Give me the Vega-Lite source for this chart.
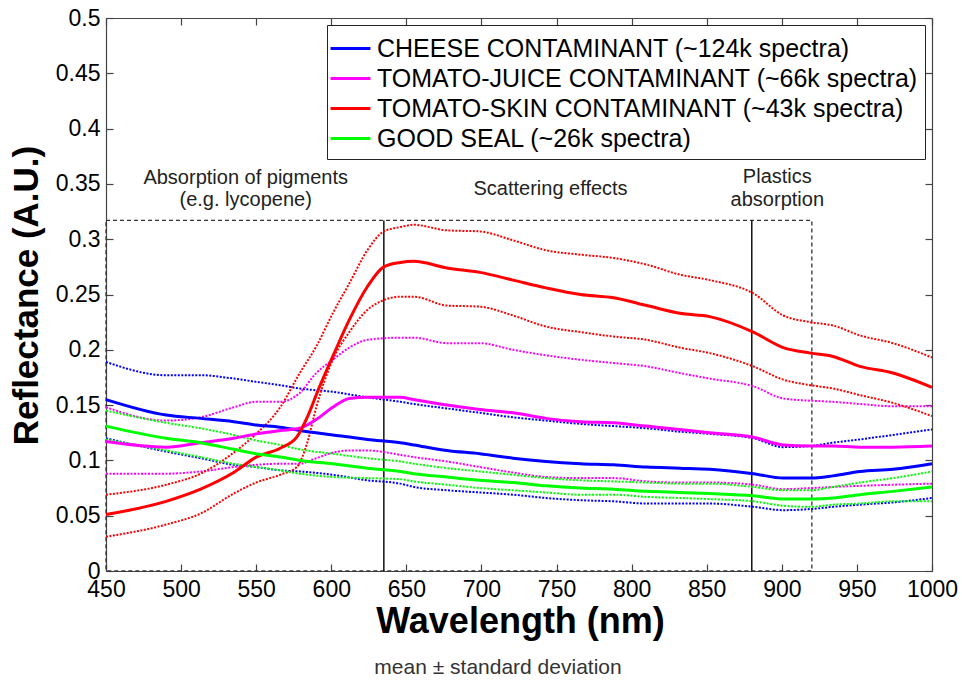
{
  "$schema": "https://vega.github.io/schema/vega-lite/v6.json",
  "width": 826,
  "height": 553,
  "autosize": {"type": "none"},
  "padding": {"left": 106, "top": 18, "right": 30, "bottom": 113},
  "background": "white",
  "config": {
    "view": {"stroke": null},
    "font": "Liberation Sans",
    "axis": {
      "grid": false,
      "domainColor": "#444",
      "domainWidth": 1.2,
      "tickColor": "#444",
      "tickWidth": 1.2,
      "tickSize": -7,
      "labelColor": "#000",
      "labelFont": "Liberation Sans",
      "labelFontSize": 23,
      "labelOverlap": false,
      "labelFlush": false,
      "titleFont": "Liberation Sans",
      "titleFontWeight": "bold",
      "titleColor": "#000"
    },
    "legend": {
      "orient": "top-right",
      "offset": 7,
      "strokeColor": "#222",
      "fillColor": "white",
      "padding": 7,
      "labelFont": "Liberation Sans",
      "labelFontSize": 25,
      "labelColor": "#000",
      "labelLimit": 0,
      "symbolType": "M-1.33,0H1.33",
      "symbolSize": 900,
      "symbolStrokeWidth": 3,
      "symbolDash": [1, 0],
      "rowPadding": 0,
      "labelOffset": 10
    }
  },
  "title": {
    "text": "mean ± standard deviation",
    "orient": "bottom",
    "anchor": "middle",
    "font": "Liberation Sans",
    "fontSize": 21,
    "fontWeight": "normal",
    "color": "#333",
    "dx": -21,
    "offset": 18
  },
  "datasets": {
    "spectra": [
      {"s": "C", "w": 450, "m": 0.155, "u": 0.189, "l": 0.120},
      {"s": "C", "w": 490, "m": 0.141, "u": 0.177, "l": 0.108},
      {"s": "C", "w": 513, "m": 0.138, "u": 0.177, "l": 0.102},
      {"s": "C", "w": 535, "m": 0.135, "u": 0.174, "l": 0.096},
      {"s": "C", "w": 550, "m": 0.132, "u": 0.171, "l": 0.094},
      {"s": "C", "w": 566, "m": 0.130, "u": 0.168, "l": 0.091},
      {"s": "C", "w": 579, "m": 0.127, "u": 0.165, "l": 0.090},
      {"s": "C", "w": 601, "m": 0.123, "u": 0.162, "l": 0.087},
      {"s": "C", "w": 624, "m": 0.119, "u": 0.157, "l": 0.082},
      {"s": "C", "w": 646, "m": 0.116, "u": 0.153, "l": 0.079},
      {"s": "C", "w": 655, "m": 0.114, "u": 0.151, "l": 0.076},
      {"s": "C", "w": 677, "m": 0.109, "u": 0.147, "l": 0.073},
      {"s": "C", "w": 699, "m": 0.106, "u": 0.143, "l": 0.071},
      {"s": "C", "w": 721, "m": 0.102, "u": 0.139, "l": 0.069},
      {"s": "C", "w": 743, "m": 0.099, "u": 0.136, "l": 0.066},
      {"s": "C", "w": 766, "m": 0.097, "u": 0.133, "l": 0.064},
      {"s": "C", "w": 788, "m": 0.096, "u": 0.131, "l": 0.063},
      {"s": "C", "w": 810, "m": 0.094, "u": 0.129, "l": 0.061},
      {"s": "C", "w": 832, "m": 0.093, "u": 0.126, "l": 0.061},
      {"s": "C", "w": 852, "m": 0.092, "u": 0.124, "l": 0.061},
      {"s": "C", "w": 881, "m": 0.088, "u": 0.120, "l": 0.058},
      {"s": "C", "w": 901, "m": 0.084, "u": 0.112, "l": 0.055},
      {"s": "C", "w": 919, "m": 0.084, "u": 0.113, "l": 0.056},
      {"s": "C", "w": 934, "m": 0.086, "u": 0.116, "l": 0.058},
      {"s": "C", "w": 952, "m": 0.090, "u": 0.119, "l": 0.060},
      {"s": "C", "w": 974, "m": 0.092, "u": 0.123, "l": 0.062},
      {"s": "C", "w": 1000, "m": 0.097, "u": 0.128, "l": 0.066},

      {"s": "J", "w": 450, "m": 0.117, "u": 0.148, "l": 0.088},
      {"s": "J", "w": 490, "m": 0.112, "u": 0.136, "l": 0.088},
      {"s": "J", "w": 513, "m": 0.116, "u": 0.139, "l": 0.090},
      {"s": "J", "w": 535, "m": 0.120, "u": 0.148, "l": 0.094},
      {"s": "J", "w": 550, "m": 0.124, "u": 0.153, "l": 0.096},
      {"s": "J", "w": 566, "m": 0.127, "u": 0.153, "l": 0.097},
      {"s": "J", "w": 579, "m": 0.129, "u": 0.161, "l": 0.097},
      {"s": "J", "w": 590, "m": 0.137, "u": 0.179, "l": 0.102},
      {"s": "J", "w": 601, "m": 0.148, "u": 0.191, "l": 0.107},
      {"s": "J", "w": 612, "m": 0.156, "u": 0.202, "l": 0.109},
      {"s": "J", "w": 624, "m": 0.157, "u": 0.209, "l": 0.109},
      {"s": "J", "w": 646, "m": 0.157, "u": 0.211, "l": 0.105},
      {"s": "J", "w": 655, "m": 0.155, "u": 0.211, "l": 0.103},
      {"s": "J", "w": 677, "m": 0.150, "u": 0.206, "l": 0.099},
      {"s": "J", "w": 699, "m": 0.146, "u": 0.206, "l": 0.094},
      {"s": "J", "w": 721, "m": 0.143, "u": 0.200, "l": 0.089},
      {"s": "J", "w": 743, "m": 0.138, "u": 0.195, "l": 0.085},
      {"s": "J", "w": 766, "m": 0.135, "u": 0.191, "l": 0.084},
      {"s": "J", "w": 788, "m": 0.134, "u": 0.188, "l": 0.084},
      {"s": "J", "w": 810, "m": 0.131, "u": 0.185, "l": 0.081},
      {"s": "J", "w": 832, "m": 0.128, "u": 0.179, "l": 0.080},
      {"s": "J", "w": 852, "m": 0.125, "u": 0.174, "l": 0.080},
      {"s": "J", "w": 881, "m": 0.121, "u": 0.167, "l": 0.078},
      {"s": "J", "w": 901, "m": 0.114, "u": 0.156, "l": 0.074},
      {"s": "J", "w": 919, "m": 0.113, "u": 0.154, "l": 0.075},
      {"s": "J", "w": 934, "m": 0.113, "u": 0.153, "l": 0.076},
      {"s": "J", "w": 952, "m": 0.112, "u": 0.151, "l": 0.077},
      {"s": "J", "w": 974, "m": 0.112, "u": 0.149, "l": 0.078},
      {"s": "J", "w": 1000, "m": 0.113, "u": 0.149, "l": 0.079},

      {"s": "S", "w": 450, "m": 0.051, "u": 0.069, "l": 0.031},
      {"s": "S", "w": 490, "m": 0.063, "u": 0.078, "l": 0.042},
      {"s": "S", "w": 513, "m": 0.074, "u": 0.088, "l": 0.052},
      {"s": "S", "w": 535, "m": 0.089, "u": 0.107, "l": 0.070},
      {"s": "S", "w": 550, "m": 0.103, "u": 0.124, "l": 0.080},
      {"s": "S", "w": 566, "m": 0.111, "u": 0.148, "l": 0.087},
      {"s": "S", "w": 577, "m": 0.121, "u": null, "l": 0.094},
      {"s": "S", "w": 579, "m": null, "u": 0.179, "l": null},
      {"s": "S", "w": 584, "m": 0.139, "u": null, "l": 0.116},
      {"s": "S", "w": 590, "m": null, "u": 0.203, "l": 0.148},
      {"s": "S", "w": 592, "m": 0.166, "u": null, "l": null},
      {"s": "S", "w": 601, "m": 0.194, "u": 0.233, "l": 0.191},
      {"s": "S", "w": 612, "m": 0.227, "u": 0.260, "l": 0.216},
      {"s": "S", "w": 624, "m": 0.257, "u": 0.290, "l": 0.236},
      {"s": "S", "w": 635, "m": 0.275, "u": 0.307, "l": 0.245},
      {"s": "S", "w": 646, "m": 0.279, "u": 0.311, "l": 0.248},
      {"s": "S", "w": 655, "m": 0.280, "u": 0.313, "l": 0.248},
      {"s": "S", "w": 677, "m": 0.274, "u": 0.308, "l": 0.240},
      {"s": "S", "w": 699, "m": 0.270, "u": 0.307, "l": 0.239},
      {"s": "S", "w": 721, "m": 0.263, "u": 0.299, "l": 0.231},
      {"s": "S", "w": 743, "m": 0.256, "u": 0.290, "l": 0.221},
      {"s": "S", "w": 766, "m": 0.250, "u": 0.286, "l": 0.216},
      {"s": "S", "w": 788, "m": 0.247, "u": 0.283, "l": 0.212},
      {"s": "S", "w": 810, "m": 0.240, "u": 0.277, "l": 0.209},
      {"s": "S", "w": 832, "m": 0.233, "u": 0.268, "l": 0.202},
      {"s": "S", "w": 852, "m": 0.230, "u": 0.263, "l": 0.197},
      {"s": "S", "w": 881, "m": 0.216, "u": 0.251, "l": 0.185},
      {"s": "S", "w": 901, "m": 0.202, "u": 0.231, "l": 0.173},
      {"s": "S", "w": 919, "m": 0.197, "u": 0.225, "l": 0.168},
      {"s": "S", "w": 934, "m": 0.194, "u": 0.222, "l": 0.165},
      {"s": "S", "w": 952, "m": 0.185, "u": 0.213, "l": 0.159},
      {"s": "S", "w": 974, "m": 0.179, "u": 0.206, "l": 0.152},
      {"s": "S", "w": 1000, "m": 0.166, "u": 0.193, "l": 0.140},

      {"s": "G", "w": 450, "m": 0.131, "u": 0.145, "l": 0.119},
      {"s": "G", "w": 490, "m": 0.120, "u": 0.134, "l": 0.109},
      {"s": "G", "w": 513, "m": 0.116, "u": 0.129, "l": 0.103},
      {"s": "G", "w": 535, "m": 0.110, "u": 0.123, "l": 0.097},
      {"s": "G", "w": 550, "m": 0.106, "u": 0.118, "l": 0.094},
      {"s": "G", "w": 566, "m": 0.103, "u": 0.114, "l": 0.091},
      {"s": "G", "w": 579, "m": 0.100, "u": 0.110, "l": 0.088},
      {"s": "G", "w": 601, "m": 0.097, "u": 0.106, "l": 0.085},
      {"s": "G", "w": 624, "m": 0.093, "u": 0.102, "l": 0.084},
      {"s": "G", "w": 646, "m": 0.090, "u": 0.099, "l": 0.083},
      {"s": "G", "w": 655, "m": 0.088, "u": 0.097, "l": 0.081},
      {"s": "G", "w": 677, "m": 0.085, "u": 0.093, "l": 0.078},
      {"s": "G", "w": 699, "m": 0.082, "u": 0.090, "l": 0.075},
      {"s": "G", "w": 721, "m": 0.080, "u": 0.087, "l": 0.073},
      {"s": "G", "w": 743, "m": 0.077, "u": 0.084, "l": 0.071},
      {"s": "G", "w": 766, "m": 0.075, "u": 0.082, "l": 0.069},
      {"s": "G", "w": 788, "m": 0.074, "u": 0.081, "l": 0.069},
      {"s": "G", "w": 810, "m": 0.072, "u": 0.080, "l": 0.067},
      {"s": "G", "w": 832, "m": 0.071, "u": 0.079, "l": 0.066},
      {"s": "G", "w": 852, "m": 0.070, "u": 0.079, "l": 0.065},
      {"s": "G", "w": 881, "m": 0.068, "u": 0.076, "l": 0.063},
      {"s": "G", "w": 901, "m": 0.065, "u": 0.073, "l": 0.059},
      {"s": "G", "w": 919, "m": 0.065, "u": 0.073, "l": 0.058},
      {"s": "G", "w": 934, "m": 0.066, "u": 0.076, "l": 0.060},
      {"s": "G", "w": 952, "m": 0.069, "u": 0.080, "l": 0.061},
      {"s": "G", "w": 974, "m": 0.072, "u": 0.084, "l": 0.063},
      {"s": "G", "w": 1000, "m": 0.076, "u": 0.090, "l": 0.063}
    ],
    "box": [{"a": 450, "b": 920, "lo": 0, "hi": 0.317}],
    "bounds": [{"w": 635, "lo": 0, "hi": 0.317}, {"w": 880, "lo": 0, "hi": 0.317}],
    "notes": [
      {"w": 543, "r": 0.355, "t": "Absorption of pigments"},
      {"w": 543, "r": 0.335, "t": "(e.g. lycopene)"},
      {"w": 746, "r": 0.345, "t": "Scattering effects"},
      {"w": 897, "r": 0.356, "t": "Plastics"},
      {"w": 897, "r": 0.335, "t": "absorption"}
    ]
  },
  "layer": [
    {
      "data": {"name": "box"},
      "mark": {"type": "rect", "fill": null, "fillOpacity": 0, "stroke": "#333", "strokeWidth": 1.3, "strokeDash": [4, 3]},
      "encoding": {
        "x": {"field": "a", "type": "quantitative", "scale": {"domain": [450, 1000], "nice": false, "zero": false},
          "axis": {"orient": "top", "labels": false, "title": null, "values": [450, 500, 550, 600, 650, 700, 750, 800, 850, 900, 950, 1000]}},
        "x2": {"field": "b"},
        "y": {"field": "lo", "type": "quantitative", "scale": {"domain": [0, 0.5], "nice": false, "zero": false},
          "axis": {"orient": "right", "labels": false, "title": null, "values": [0, 0.05, 0.1, 0.15, 0.2, 0.25, 0.3, 0.35, 0.4, 0.45, 0.5]}},
        "y2": {"field": "hi"}
      }
    },
    {
      "layer": [
        {
          "data": {"name": "bounds"},
          "mark": {"type": "rule", "color": "#111", "strokeWidth": 1.5},
          "encoding": {
            "x": {"field": "w", "type": "quantitative", "scale": {"domain": [450, 1000], "nice": false, "zero": false},
              "axis": {"orient": "bottom", "values": [450, 500, 550, 600, 650, 700, 750, 800, 850, 900, 950, 1000], "format": "d", "labelPadding": 14,
                "title": "Wavelength (nm)", "titleFontSize": 36, "titleX": 414, "titleY": 50, "titleBaseline": "middle"}},
            "y": {"field": "lo", "type": "quantitative", "scale": {"domain": [0, 0.5], "nice": false, "zero": false},
              "axis": {"orient": "left", "values": [0, 0.05, 0.1, 0.15, 0.2, 0.25, 0.3, 0.35, 0.4, 0.45, 0.5], "format": "~g", "labelPadding": 13,
                "title": "Reflectance (A.U.)", "titleFontSize": 35, "titleX": -80, "titleY": 277, "titleAngle": 270, "titleAlign": "center", "titleBaseline": "middle"}},
            "y2": {"field": "hi"}
          }
        },
        {
          "data": {"name": "spectra"},
          "transform": [
            {"fold": ["m", "u", "l"], "as": ["k", "r"]},
            {"filter": "isValid(datum.r) && datum.k != 'm'"}
          ],
          "mark": {"type": "line", "strokeWidth": 2, "strokeDash": [2, 1.5], "interpolate": "monotone"},
          "encoding": {
            "x": {"field": "w", "type": "quantitative"},
            "y": {"field": "r", "type": "quantitative"},
            "detail": {"field": "k"},
            "color": {"field": "s", "type": "nominal", "scale": {"domain": ["C", "J", "S", "G"], "range": ["#0000FF", "#FF00FF", "#FF0000", "#00FF00"]},
              "legend": {"title": null, "labelExpr": "{'C': 'CHEESE CONTAMINANT (~124k spectra)', 'J': 'TOMATO-JUICE CONTAMINANT (~66k spectra)', 'S': 'TOMATO-SKIN CONTAMINANT (~43k spectra)', 'G': 'GOOD SEAL (~26k spectra)'}[datum.label]"}}
          }
        },
        {
          "data": {"name": "spectra"},
          "transform": [
            {"fold": ["m", "u", "l"], "as": ["k", "r"]},
            {"filter": "isValid(datum.r) && datum.k == 'm'"}
          ],
          "mark": {"type": "line", "strokeWidth": 3, "interpolate": "monotone"},
          "encoding": {
            "x": {"field": "w", "type": "quantitative"},
            "y": {"field": "r", "type": "quantitative"},
            "color": {"field": "s", "type": "nominal", "scale": {"domain": ["C", "J", "S", "G"], "range": ["#0000FF", "#FF00FF", "#FF0000", "#00FF00"]},
              "legend": {"title": null, "labelExpr": "{'C': 'CHEESE CONTAMINANT (~124k spectra)', 'J': 'TOMATO-JUICE CONTAMINANT (~66k spectra)', 'S': 'TOMATO-SKIN CONTAMINANT (~43k spectra)', 'G': 'GOOD SEAL (~26k spectra)'}[datum.label]"}}
          }
        },
        {
          "data": {"name": "notes"},
          "mark": {"type": "text", "font": "Liberation Sans", "fontSize": 20, "color": "#222", "align": "center", "baseline": "middle"},
          "encoding": {
            "x": {"field": "w", "type": "quantitative"},
            "y": {"field": "r", "type": "quantitative"},
            "text": {"field": "t"}
          }
        }
      ]
    }
  ],
  "resolve": {"scale": {"x": "independent", "y": "independent"}, "axis": {"x": "independent", "y": "independent"}}
}
